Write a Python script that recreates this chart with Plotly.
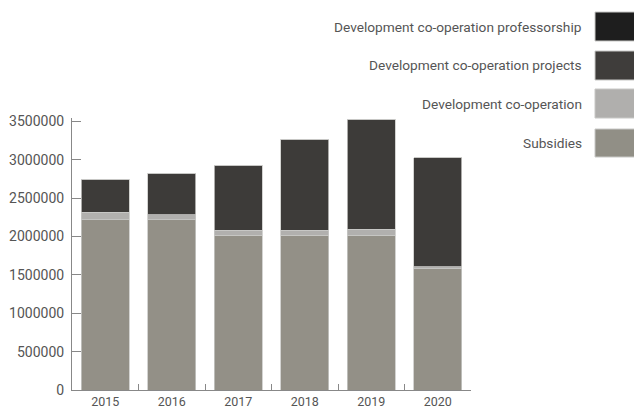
import plotly.graph_objects as go

years = ["2015", "2016", "2017", "2018", "2019", "2020"]
subsidies = [2220000, 2220000, 2020000, 2020000, 2020000, 1580000]
dev_coop = [100000, 65000, 65000, 65000, 75000, 30000]
dev_projects = [425000, 540000, 845000, 1185000, 1435000, 1420000]
dev_professorship = [0, 0, 0, 0, 0, 0]

series = [
    ("Subsidies", subsidies, "#939087"),
    ("Development co-operation", dev_coop, "#b1b0ae"),
    ("Development co-operation projects", dev_projects, "#3d3b39"),
    ("Development co-operation professorship", dev_professorship, "#1e1e1e"),
]

OFF = 8  # page body margin
W, H = 642 - OFF, 410 - OFF
# plot area in screen pixels: x 72..471, y 118..390
L, R, T, B = 72 - OFF, 642 - 471, 118 - OFF, 410 - 390
PW, PH = W - L - R, H - T - B


def px(x):
    return (x - OFF - L) / PW


def py(y):
    return (H - B - (y - OFF)) / PH


fig = go.Figure()
for name, vals, col in series:
    fig.add_trace(go.Bar(
        x=years, y=vals, name=name,
        marker=dict(color=col, line=dict(color="#c8c8c6", width=0.8)),
        showlegend=False,
    ))

legend_rows = [
    ("Development co-operation professorship", "#1e1e1e", 12, 41),
    ("Development co-operation projects", "#3f3d3b", 51, 80),
    ("Development co-operation", "#b0afad", 89, 118),
    ("Subsidies", "#918f86", 129, 157),
]
shapes = []
annotations = []
for text, col, y0, y1 in legend_rows:
    shapes.append(dict(type="rect", xref="paper", yref="paper",
                       x0=px(595), x1=px(650), y0=py(y1), y1=py(y0),
                       fillcolor=col, line=dict(color="#c8c8c6", width=1)))
    annotations.append(dict(xref="paper", yref="paper", x=px(584), y=py((y0 + y1) / 2),
                            text=text, showarrow=False, xanchor="right", yanchor="middle",
                            font=dict(family="Roboto", size=13.7, color="#555555")))

fig.update_layout(
    width=W, height=H,
    margin=dict(l=L, r=R, t=T, b=B, autoexpand=False),
    barmode="stack", bargap=0.275,
    plot_bgcolor="white", paper_bgcolor="white",
    font=dict(family="Roboto", size=12, color="#555555"),
    shapes=shapes, annotations=annotations,
    xaxis=dict(
        range=[-0.5, 5.5], showline=True, linecolor="#888888", linewidth=1,
        ticks="inside", ticklen=6, tickcolor="#888888", tickson="boundaries",
        showgrid=False, tickfont=dict(size=12.5, color="#555555"),
        automargin=False, ticklabelstandoff=0,
    ),
    yaxis=dict(
        range=[0, 3546000], tickvals=[0, 500000, 1000000, 1500000, 2000000, 2500000, 3000000, 3500000],
        ticktext=["0", "500000", "1000000", "1500000", "2000000", "2500000", "3000000", "3500000"],
        showline=True, linecolor="#888888", linewidth=1,
        ticks="inside", ticklen=9, tickcolor="#888888",
        showgrid=False, zeroline=False, tickfont=dict(size=14, color="#555555"),
        automargin=False, ticklabelstandoff=4,
    ),
)

fig.write_html("out.html")
